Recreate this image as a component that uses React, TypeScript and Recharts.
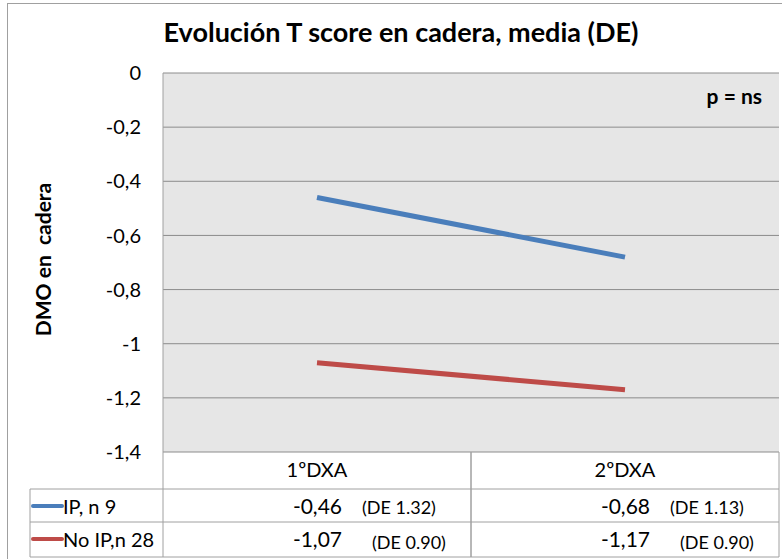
import { LineChart, Line, XAxis, YAxis, CartesianGrid } from 'recharts';

// ── Data ───────────────────────────────────────────

const categories = ['1ºDXA', '2ºDXA'];
const ipValues = [-0.46, -0.68];
const noIpValues = [-1.07, -1.17];
const ipDE = ['1.32', '1.13'];
const noIpDE = ['0.90', '0.90'];
const yTicks = [0, -0.2, -0.4, -0.6, -0.8, -1, -1.2, -1.4];

const seriesNames = ['IP, n 9', 'No IP,n 28'];
const seriesColors = ['#4A7EBB', '#BE4B48'];

const data = categories.map((cat, i) => ({
  cat,
  ip: ipValues[i],
  noIp: noIpValues[i],
}));

// ── Layout ─────────────────────────────────────────

const W = 782;
const H = 559;
const FONT = 'Lato, "Open Sans", sans-serif';
const LEFT = 163;
const RIGHT_M = 3;
const PLOT_W = W - LEFT - RIGHT_M;
const COL_W = PLOT_W / categories.length;
const TABLE_H = 107;
const BORDER = '#a0a0a0';
const LEGEND_X = 30;

const fmt = (v: number) => String(v).replace('.', ',');

// ── Data table under the plot, drawn as x-axis ticks ──

function TableTick(props: any) {
  const { x, y, payload, index } = props;
  const l = x - COL_W / 2;
  const r = x + COL_W / 2;
  const rows = [y + 37, y + 70, y + 105];
  const values = [ipValues[index], noIpValues[index]];
  const des = [ipDE[index], noIpDE[index]];

  return (
    <g fontFamily={FONT}>
      <text x={x} y={y + 25} textAnchor="middle" fontSize={20} fill="#000">
        {payload.value}
      </text>
      {values.map((v, i) => (
        <g key={i}>
          <text x={x + 25} y={rows[i] + 25} textAnchor="end" fontSize={21} fill="#000">
            {fmt(v)}
          </text>
          <text x={x + 45 + i * 10} y={rows[i] + 25 + i * 2} fontSize={18} fill="#000">
            {`(DE ${des[i]})`}
          </text>
        </g>
      ))}
      {rows.map((ry) => (
        <line key={ry} x1={l} x2={r} y1={ry} y2={ry} stroke={BORDER} />
      ))}
      <line x1={l} x2={l} y1={y} y2={rows[2]} stroke={BORDER} />
      <line x1={r} x2={r} y1={y} y2={rows[2]} stroke={BORDER} />
      {index === 0 && (
        <g>
          {rows.map((ry) => (
            <line key={ry} x1={LEGEND_X} x2={l} y1={ry} y2={ry} stroke={BORDER} />
          ))}
          <line x1={LEGEND_X} x2={LEGEND_X} y1={rows[0]} y2={rows[2]} stroke={BORDER} />
          {seriesNames.map((name, i) => (
            <g key={name}>
              <line
                x1={LEGEND_X + 3}
                x2={LEGEND_X + 32}
                y1={rows[i] + 17}
                y2={rows[i] + 17}
                stroke={seriesColors[i]}
                strokeWidth={4}
                strokeLinecap="round"
              />
              <text x={LEGEND_X + 33} y={rows[i] + 25} fontSize={20} fill="#000">
                {name}
              </text>
            </g>
          ))}
        </g>
      )}
    </g>
  );
}

function YTitle({ viewBox }: any) {
  const cy = viewBox.y + viewBox.height / 2 - 3;
  return (
    <text
      x={42}
      y={cy}
      transform={`rotate(-90, 42, ${cy})`}
      textAnchor="middle"
      dominantBaseline="central"
      fontFamily={FONT}
      fontWeight={700}
      fontSize={21}
      fill="#000"
      style={{ whiteSpace: 'pre' }}
    >
      DMO en  cadera
    </text>
  );
}

// ── Component ──────────────────────────────────────

export default function App() {
  return (
    <div
      style={{
        position: 'absolute',
        left: 0,
        top: 0,
        width: W,
        height: H,
        overflow: 'hidden',
        background: '#fff',
        fontFamily: FONT,
      }}
    >
      <div
        style={{
          position: 'absolute',
          left: 7,
          top: 3,
          width: W,
          height: H,
          border: `1px solid ${BORDER}`,
        }}
      />
      <div
        style={{
          position: 'absolute',
          left: 10,
          width: W,
          top: 15,
          textAlign: 'center',
          fontWeight: 700,
          fontSize: 27,
        }}
      >
        Evolución T score en cadera, media (DE)
      </div>
      <div
        style={{
          position: 'absolute',
          right: 20,
          top: 83,
          fontWeight: 700,
          fontSize: 21,
          zIndex: 2,
        }}
      >
        p = ns
      </div>
      <div style={{ position: 'absolute', left: 0, top: 0 }}>
        <LineChart
          width={W}
          height={H}
          data={data}
          margin={{ top: 73, right: RIGHT_M, bottom: 0, left: 0 }}
        >
          <CartesianGrid vertical={false} stroke="#8c8c8c" fill="#e6e6e6" />
          <XAxis
            dataKey="cat"
            height={TABLE_H}
            axisLine={false}
            tickLine={false}
            tickSize={0}
            tickMargin={0}
            interval={0}
            padding={{ left: COL_W / 2, right: COL_W / 2 }}
            tick={<TableTick />}
          />
          <YAxis
            width={LEFT}
            domain={[-1.4, 0]}
            ticks={yTicks}
            interval={0}
            tickFormatter={fmt}
            axisLine={{ stroke: BORDER }}
            tickLine={false}
            tickSize={0}
            tickMargin={22}
            tick={{ fontSize: 20, fill: '#000', fontFamily: FONT }}
            label={<YTitle />}
          />
          <Line
            dataKey="ip"
            stroke={seriesColors[0]}
            strokeWidth={5}
            dot={false}
            isAnimationActive={false}
          />
          <Line
            dataKey="noIp"
            stroke={seriesColors[1]}
            strokeWidth={5}
            dot={false}
            isAnimationActive={false}
          />
        </LineChart>
      </div>
    </div>
  );
}
